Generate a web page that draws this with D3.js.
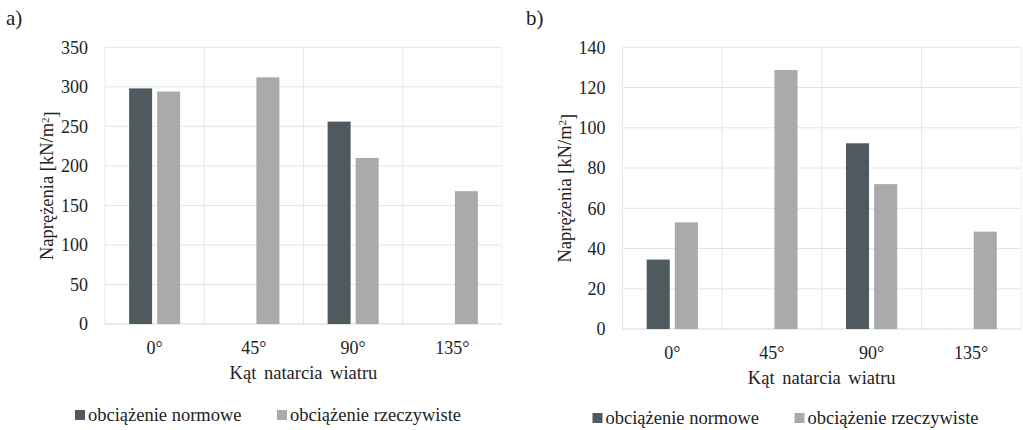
<!DOCTYPE html>
<html>
<head>
<meta charset="utf-8">
<script src="https://cdn.jsdelivr.net/npm/d3@7"></script>
<style>
  body { margin: 0; background: #fff; }
</style>
</head>
<body>
<div id="chart"></div>
<script>
// data
const categories = ["0°", "45°", "90°", "135°"];
const seriesNames = ["obciążenie normowe", "obciążenie rzeczywiste"];
const seriesColors = ["#4f5a5f", "#a8aaac"];

// panel a)
const normoweA = [298, null, 256, null];
const rzeczywisteA = [294, 312, 210, 168];
const ticksA = [0, 50, 100, 150, 200, 250, 300, 350];

// panel b)
const normoweB = [34.5, null, 92.3, null];
const rzeczywisteB = [53, 128.7, 72, 48.4];
const ticksB = [0, 20, 40, 60, 80, 100, 120, 140];

const FONT = "Liberation Serif";

const svg = d3.select("#chart")
    .append("svg")
    .attr("width", 1023)
    .attr("height", 430);

// every text gets the serif face inline
function txt(sel, size) {
    return sel.append("text")
        .attr("font-family", FONT)
        .attr("font-size", size)
        .attr("fill", "#222");
}

function drawPanel(opts) {
    const g = svg.append("g");
    const left = opts.left, right = opts.right, top = opts.top, bottom = opts.bottom;

    const x0 = d3.scaleBand()
        .domain(categories)
        .range([left, right])
        .paddingInner(0)
        .paddingOuter(0);

    const x1 = d3.scaleBand()
        .domain(seriesNames)
        .range([0, x0.bandwidth()])
        .paddingInner(0.18)
        .paddingOuter(0.86);

    const y = d3.scaleLinear()
        .domain([0, d3.max(opts.ticks)])
        .range([bottom, top]);

    // label a) / b)
    txt(g, 21)
        .attr("x", opts.labelX)
        .attr("y", 25)
        .text(opts.label);

    // horizontal gridlines
    g.append("g")
        .selectAll("line")
        .data(opts.ticks.filter(d => d > 0))
        .join("line")
        .attr("x1", left)
        .attr("x2", right)
        .attr("y1", d => y(d))
        .attr("y2", d => y(d))
        .attr("stroke", "#e4e4e4")
        .attr("stroke-width", 1);

    // vertical category separators
    const seps = categories.map(c => x0(c)).concat([right]);
    g.append("g")
        .selectAll("line")
        .data(seps)
        .join("line")
        .attr("x1", d => d)
        .attr("x2", d => d)
        .attr("y1", top)
        .attr("y2", bottom)
        .attr("stroke", (d, i) => i === seps.length - 1 ? "#eef2f5" : "#e6e6e6")
        .attr("stroke-width", 1);

    // bottom axis line
    g.append("line")
        .attr("x1", left)
        .attr("x2", right)
        .attr("y1", bottom)
        .attr("y2", bottom)
        .attr("stroke", "#d6d6d6");

    // bars
    const rows = [];
    opts.series.forEach((vals, si) => {
        vals.forEach((v, ci) => {
            if (v !== null) rows.push({ cat: categories[ci], name: seriesNames[si], value: v, color: seriesColors[si] });
        });
    });

    g.append("g")
        .selectAll("rect")
        .data(rows)
        .join("rect")
        .attr("x", d => x0(d.cat) + x1(d.name))
        .attr("width", x1.bandwidth())
        .attr("y", d => y(d.value))
        .attr("height", d => y(0) - y(d.value))
        .attr("fill", d => d.color);

    // y tick labels
    const yTicks = g.append("g");
    opts.ticks.forEach(t => {
        txt(yTicks, 18)
            .attr("x", left - 17)
            .attr("y", y(t))
            .attr("dy", "0.35em")
            .attr("text-anchor", "end")
            .text(t);
    });

    // x tick labels
    const xTicks = g.append("g");
    categories.forEach(c => {
        txt(xTicks, 18)
            .attr("x", x0(c) + x0.bandwidth() / 2)
            .attr("y", bottom + 30)
            .attr("text-anchor", "middle")
            .text(c);
    });

    // x axis title
    txt(g, 18.5)
        .attr("x", (left + right) / 2)
        .attr("y", bottom + 55)
        .attr("text-anchor", "middle")
        .attr("word-spacing", 3)
        .text("Kąt natarcia wiatru");

    // y axis title
    const yt = txt(g, 18.5)
        .attr("transform", `translate(${left - 58},${(top + bottom) / 2}) rotate(-90)`)
        .attr("dy", "0.35em")
        .attr("text-anchor", "middle");
    yt.append("tspan").text("Naprężenia [kN/m");
    yt.append("tspan").attr("dy", "-0.45em").attr("font-size", 11).text("2");
    yt.append("tspan").attr("dy", "0.45em").text("]");

    // legend
    const legend = g.append("g")
        .attr("transform", `translate(${left - 30},${opts.legendY})`);
    seriesNames.forEach((name, i) => {
        const item = legend.append("g").attr("transform", `translate(${i * 202},0)`);
        item.append("rect")
            .attr("x", 0)
            .attr("y", -5)
            .attr("width", 10)
            .attr("height", 10)
            .attr("fill", seriesColors[i]);
        txt(item, 18.5)
            .attr("x", 13)
            .attr("y", 0)
            .attr("dy", "0.33em")
            .text(name);
    });
}

drawPanel({
    label: "a)", labelX: 6,
    left: 105, right: 502, top: 47.3, bottom: 324,
    ticks: ticksA,
    series: [normoweA, rzeczywisteA],
    legendY: 415
});

drawPanel({
    label: "b)", labelX: 526,
    left: 622.5, right: 1021, top: 47.3, bottom: 329,
    ticks: ticksB,
    series: [normoweB, rzeczywisteB],
    legendY: 418
});
</script>
</body>
</html>
